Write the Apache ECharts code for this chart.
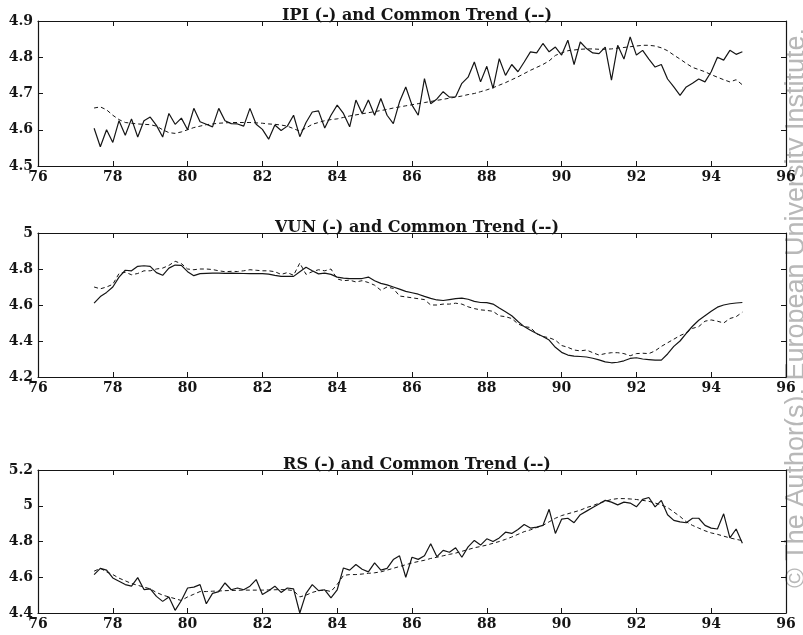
<!DOCTYPE html>
<html><head><meta charset="utf-8">
<script src="https://cdn.jsdelivr.net/npm/echarts@6/dist/echarts.min.js"></script>
<style>html,body{margin:0;padding:0;background:#fff}#c{width:803px;height:635px}</style>
</head><body><div id="c"></div>
<script>
// Time axis: first observation (year, 19xx) and spacing between readings (2 months)
const startYear = 77.5;
const stepYears = 1 / 6;

const xTickLabels = [76, 78, 80, 82, 84, 86, 88, 90, 92, 94, 96];

const titles = ['IPI (-) and Common Trend (--)', 'VUN (-) and Common Trend (--)', 'RS (-) and Common Trend (--)'];

const ipiActual = [
  4.604, 4.553, 4.600, 4.565, 4.625, 4.585, 4.630, 4.580, 4.625, 4.635, 4.612, 4.580,
  4.645, 4.615, 4.632, 4.600, 4.659, 4.622, 4.615, 4.608, 4.659, 4.625, 4.617, 4.616,
  4.610, 4.659, 4.615, 4.601, 4.574, 4.613, 4.598, 4.610, 4.640, 4.581, 4.620, 4.649,
  4.652, 4.605, 4.640, 4.668, 4.645, 4.608, 4.682, 4.645, 4.682, 4.640, 4.686, 4.640,
  4.617, 4.677, 4.718, 4.668, 4.640, 4.741, 4.672, 4.685, 4.705, 4.690, 4.691, 4.728,
  4.745, 4.787, 4.732, 4.775, 4.714, 4.796, 4.750, 4.780, 4.760, 4.787, 4.815, 4.812,
  4.838, 4.815, 4.828, 4.806, 4.847, 4.780, 4.842, 4.824, 4.812, 4.810, 4.828, 4.737,
  4.833, 4.795, 4.856, 4.806, 4.819, 4.795, 4.773, 4.780, 4.740, 4.718, 4.695, 4.718,
  4.728, 4.740, 4.732, 4.760, 4.800, 4.792, 4.819, 4.808, 4.815
];
const ipiTrend = [
  4.660, 4.663, 4.655, 4.640, 4.628, 4.620, 4.618, 4.616, 4.615, 4.614, 4.610, 4.600,
  4.592, 4.590, 4.594, 4.600, 4.606, 4.610, 4.614, 4.616, 4.618, 4.619, 4.620, 4.620,
  4.620, 4.620, 4.619, 4.618, 4.616, 4.615, 4.613, 4.610, 4.603, 4.596, 4.605, 4.615,
  4.620, 4.625, 4.628, 4.630, 4.634, 4.638, 4.641, 4.644, 4.647, 4.650, 4.653, 4.656,
  4.660, 4.663, 4.666, 4.669, 4.672, 4.675, 4.678, 4.681, 4.684, 4.687, 4.690, 4.693,
  4.697, 4.700, 4.705, 4.710, 4.716, 4.723, 4.730, 4.738, 4.746, 4.755, 4.764, 4.772,
  4.780, 4.790, 4.805, 4.812, 4.818, 4.820, 4.822, 4.823, 4.823, 4.822, 4.822, 4.823,
  4.825, 4.827, 4.829, 4.831, 4.833, 4.833, 4.831, 4.826, 4.818, 4.806, 4.795, 4.783,
  4.772, 4.766, 4.760, 4.752, 4.745, 4.738, 4.732, 4.738, 4.724
];
const vunActual = [
  4.610, 4.647, 4.670, 4.700, 4.755, 4.793, 4.790, 4.815, 4.818, 4.815, 4.780, 4.765,
  4.805, 4.822, 4.820, 4.785, 4.763, 4.774, 4.776, 4.777, 4.777, 4.776, 4.777, 4.776,
  4.775, 4.774, 4.774, 4.774, 4.772, 4.765, 4.759, 4.759, 4.759, 4.785, 4.810, 4.790,
  4.773, 4.777, 4.770, 4.755, 4.749, 4.747, 4.747, 4.747, 4.755, 4.735, 4.720, 4.712,
  4.700, 4.688, 4.676, 4.668, 4.660, 4.648, 4.637, 4.628, 4.625, 4.630, 4.635, 4.638,
  4.632, 4.620, 4.614, 4.613, 4.605, 4.583, 4.562, 4.540, 4.508, 4.480, 4.460, 4.442,
  4.425, 4.405, 4.365, 4.337, 4.322, 4.316, 4.314, 4.311, 4.304, 4.295, 4.284, 4.279,
  4.282, 4.290, 4.303, 4.307, 4.300, 4.297, 4.294, 4.294, 4.328, 4.370, 4.400, 4.443,
  4.482, 4.515, 4.540, 4.565, 4.588, 4.600, 4.607, 4.611, 4.614
];
const vunTrend = [
  4.700, 4.690, 4.700, 4.715, 4.775, 4.782, 4.768, 4.775, 4.790, 4.790, 4.800, 4.805,
  4.820, 4.843, 4.830, 4.800, 4.796, 4.800, 4.800, 4.797, 4.790, 4.785, 4.787, 4.786,
  4.790, 4.796, 4.793, 4.790, 4.790, 4.785, 4.770, 4.780, 4.765, 4.833, 4.770, 4.785,
  4.796, 4.790, 4.800, 4.745, 4.735, 4.738, 4.728, 4.735, 4.725, 4.710, 4.682, 4.700,
  4.692, 4.650, 4.645, 4.640, 4.635, 4.630, 4.600, 4.600, 4.605, 4.605, 4.610, 4.605,
  4.590, 4.580, 4.573, 4.570, 4.565, 4.540, 4.535, 4.525, 4.495, 4.480, 4.475, 4.440,
  4.425, 4.418, 4.405, 4.375, 4.365, 4.350, 4.345, 4.350, 4.335, 4.322, 4.330, 4.335,
  4.335, 4.330, 4.318, 4.330, 4.332, 4.330, 4.345, 4.370, 4.390, 4.410, 4.430, 4.445,
  4.470, 4.480, 4.510, 4.517, 4.510, 4.500, 4.525, 4.535, 4.560
];
const rsActual = [
  4.615, 4.650, 4.640, 4.596, 4.578, 4.559, 4.550, 4.598, 4.531, 4.535, 4.493, 4.465,
  4.490, 4.415, 4.470, 4.540, 4.545, 4.559, 4.452, 4.510, 4.520, 4.568, 4.530, 4.540,
  4.530, 4.550, 4.587, 4.503, 4.525, 4.550, 4.515, 4.540, 4.535, 4.400, 4.510, 4.559,
  4.525, 4.530, 4.484, 4.530, 4.652, 4.640, 4.671, 4.645, 4.630, 4.680, 4.640, 4.650,
  4.699, 4.720, 4.600, 4.712, 4.700, 4.720, 4.787, 4.715, 4.750, 4.740, 4.765, 4.712,
  4.770, 4.806, 4.780, 4.815, 4.800, 4.820, 4.852, 4.845, 4.867, 4.895, 4.875, 4.880,
  4.890, 4.980, 4.845, 4.925, 4.930, 4.905, 4.950, 4.970, 4.990, 5.010, 5.030, 5.020,
  5.005, 5.020, 5.015, 4.994, 5.036, 5.046, 4.994, 5.030, 4.950, 4.918, 4.910, 4.905,
  4.930, 4.930, 4.890, 4.875, 4.870, 4.955, 4.820, 4.870, 4.790
];
const rsTrend = [
  4.634, 4.650, 4.630, 4.615, 4.595, 4.580, 4.565, 4.555, 4.545, 4.535, 4.515, 4.500,
  4.490, 4.480, 4.470, 4.490, 4.505, 4.520, 4.520, 4.522, 4.523, 4.525, 4.526, 4.527,
  4.528, 4.528, 4.528, 4.528, 4.529, 4.530, 4.531, 4.530, 4.525, 4.490, 4.500, 4.515,
  4.525, 4.528, 4.520, 4.560, 4.610, 4.615, 4.615, 4.618, 4.622, 4.625, 4.630, 4.640,
  4.650, 4.660, 4.670, 4.680, 4.688, 4.695, 4.705, 4.712, 4.720, 4.728, 4.735, 4.745,
  4.755, 4.765, 4.772, 4.780, 4.790, 4.800, 4.812, 4.825, 4.840, 4.855, 4.865, 4.878,
  4.890, 4.910, 4.930, 4.945, 4.955, 4.965, 4.975, 4.990, 5.000, 5.015, 5.025, 5.035,
  5.040, 5.040, 5.038, 5.035, 5.030, 5.025, 5.015, 5.005, 4.990, 4.965, 4.940, 4.910,
  4.890, 4.875, 4.860, 4.848, 4.840, 4.830, 4.820, 4.812, 4.805
];

const yTickLabels = [
  [4.5, 4.6, 4.7, 4.8, 4.9],
  [4.2, 4.4, 4.6, 4.8, 5],
  [4.4, 4.6, 4.8, 5, 5.2]
];

const panels = [
  { actual: ipiActual, trend: ipiTrend },
  { actual: vunActual, trend: vunTrend },
  { actual: rsActual, trend: rsTrend }
];

const layout = [
  { grid: { left: 38, top: 21, width: 748, height: 145 }, titleTop: 3 },
  { grid: { left: 38, top: 233, width: 748, height: 144 }, titleTop: 215 },
  { grid: { left: 38, top: 470, width: 748, height: 143 }, titleTop: 452 }
];

const INK = '#151515';
const serif = 'DejaVu Serif';

function pairs(vals) {
  return vals.map((v, i) => [startYear + i * stepYears, v]);
}

const option = {
  animation: false,
  backgroundColor: '#ffffff',
  title: [],
  grid: [],
  xAxis: [],
  yAxis: [],
  series: [],
  graphic: [{
    type: 'text',
    x: 797, y: 308,
    rotation: Math.PI / 2,
    style: {
      text: '\u00a9 The Author(s). European University Institute.',
      fill: '#b8b8b8',
      font: '27px "Liberation Sans"',
      textAlign: 'center',
      textVerticalAlign: 'middle'
    }
  }]
};

panels.forEach((p, k) => {
  const L = layout[k];
  const ticks = yTickLabels[k];
  const yMin = ticks[0], yMax = ticks[ticks.length - 1];
  const yStep = +(ticks[1] - ticks[0]).toFixed(3);
  option.grid.push(Object.assign({ containLabel: false }, L.grid));
  option.title.push({
    text: titles[k],
    left: L.grid.left + L.grid.width / 2,
    top: L.titleTop,
    textAlign: 'center',
    textStyle: { fontFamily: serif, fontWeight: 'bold', fontSize: 16, color: INK }
  });
  const axisCommon = {
    gridIndex: k,
    axisLine: { show: true, lineStyle: { color: INK, width: 1.2 } },
    axisTick: { show: true, inside: true, length: 5, lineStyle: { color: INK, width: 1 } },
    splitLine: { show: false }
  };
  const xMin = xTickLabels[0], xMax = xTickLabels[xTickLabels.length - 1];
  const xStep = xTickLabels[1] - xTickLabels[0];
  option.xAxis.push(Object.assign({}, axisCommon, {
    type: 'value', position: 'bottom', min: xMin, max: xMax, interval: xStep,
    axisLabel: { show: true, margin: 4, fontFamily: serif, fontWeight: 'bold', fontSize: 14, color: INK,
      showMinLabel: true, showMaxLabel: true }
  }));
  option.xAxis.push(Object.assign({}, axisCommon, {
    type: 'value', position: 'top', min: xMin, max: xMax, interval: xStep,
    axisLabel: { show: false }
  }));
  option.yAxis.push(Object.assign({}, axisCommon, {
    type: 'value', position: 'left', min: yMin, max: yMax, interval: yStep,
    axisLabel: { show: true, margin: 5, fontFamily: serif, fontWeight: 'bold', fontSize: 14, color: INK,
      showMinLabel: true, showMaxLabel: true,
      formatter: v => (k === 0 ? v.toFixed(1) : String(+v.toFixed(2))) }
  }));
  option.yAxis.push(Object.assign({}, axisCommon, {
    type: 'value', position: 'right', min: yMin, max: yMax, interval: yStep,
    axisLabel: { show: false }
  }));
  option.series.push({
    type: 'line', xAxisIndex: 2 * k, yAxisIndex: 2 * k,
    data: pairs(p.trend), showSymbol: false, symbol: 'none',
    lineStyle: { color: INK, width: 1, type: [4, 3] }, z: 2
  });
  option.series.push({
    type: 'line', xAxisIndex: 2 * k, yAxisIndex: 2 * k,
    data: pairs(p.actual), showSymbol: false, symbol: 'none',
    lineStyle: { color: INK, width: 1.2 }, z: 3
  });
});

const chart = echarts.init(document.getElementById('c'), null, { renderer: 'canvas' });
chart.setOption(option);
</script>
</body></html>
